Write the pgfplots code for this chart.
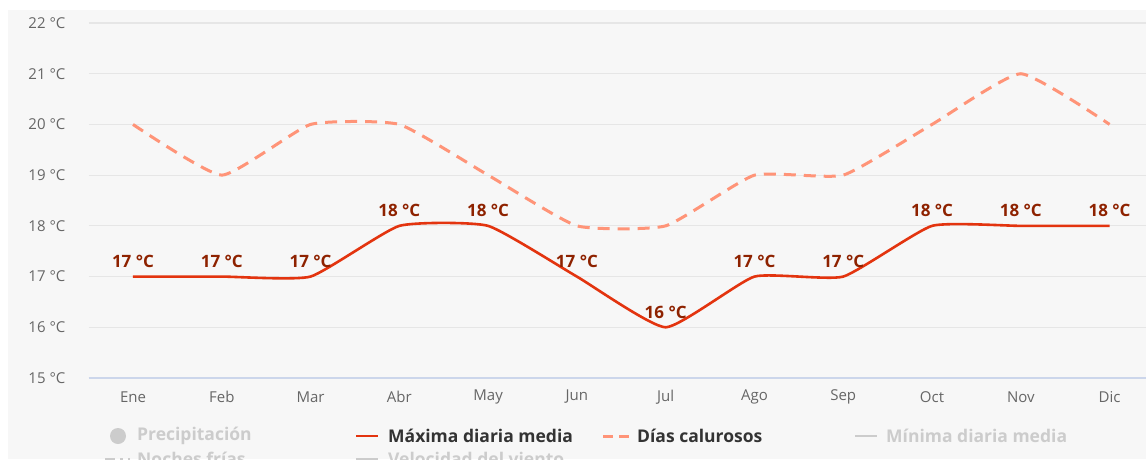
\documentclass[border=0pt]{standalone}
\usepackage{pgfplots}
\pgfplotsset{compat=1.18}
\usepackage{fontspec}
\setmainfont{Open Sans}
\definecolor{bg}{HTML}{F7F7F7}
\definecolor{grid}{HTML}{E6E6E6}
\definecolor{maxc}{HTML}{E3340F}
\definecolor{hotc}{HTML}{FF9478}
\definecolor{lbl}{HTML}{8E2200}
\definecolor{tick}{HTML}{666666}
\definecolor{dis}{HTML}{CCCCCC}
\definecolor{leg}{HTML}{333333}
\begin{document}
\begin{tikzpicture}[x=1pt,y=1pt]
\fill[white] (0,0) rectangle (1146,-459);
\fill[bg] (8,-10) rectangle (1146,-459);
\begin{axis}[
  at={(88.6pt,-378pt)}, anchor=south west,
  scale only axis, width=1057.4pt, height=355pt,
  xmin=-0.5, xmax=11.41, ymin=15, ymax=22,
  axis line style={draw=none},
  ytick={15,16,...,22},
  yticklabel={\pgfmathprintnumber{\tick}~°C},
  yticklabel style={anchor=east, inner sep=0pt, xshift=-23pt, font=\fontsize{15}{18}\selectfont, text=tick},
  xtick={0,...,11},
  xticklabels={Ene,Feb,Mar,Abr,May,Jun,Jul,Ago,Sep,Oct,Nov,Dic},
  xticklabel style={anchor=center, inner sep=0pt, yshift=-19pt, font=\fontsize{15}{18}\selectfont, text=tick},
  major tick length=0pt,
  tick style={draw=none},
  xmajorgrids=false,
  ymajorgrids, 
  y grid style={grid, line width=1.2pt},
  clip=false,
  /pgf/number format/assume math mode=true,
]
\draw[color={rgb,255:red,204;green,214;blue,235}, line width=1.2pt] (axis cs:-0.5,15) -- (axis cs:11.41,15);
\addplot[hotc, line width=3pt, dash pattern=on 12pt off 8pt, smooth, tension=0.28] coordinates {
(0,20) (1,19) (2,20) (3,20) (4,19) (5,18) (6,18) (7,19) (8,19) (9,20) (10,21) (11,20)};
\addplot[maxc, line width=2.6pt, smooth, tension=0.28,
  nodes near coords={\pgfmathprintnumber{\pgfplotspointmeta}~°C},
  point meta=explicit,
  every node near coord/.append style={font=\bfseries\fontsize{17}{20}\selectfont, text=lbl, anchor=center, yshift=15pt}] coordinates {
(0,17) [17] (1,17) [17] (2,17) [17] (3,18) [18] (4,18) [18] (5,17) [17] (6,16) [16] (7,17) [17] (8,17) [17] (9,18) [18] (10,18) [18] (11,18) [18]};
\end{axis}
% legend
\begin{scope}[font=\bfseries\fontsize{17.5}{20}\selectfont]
\fill[dis] (118,-436) circle (8);
\node[anchor=west, text=dis, inner sep=0pt] at (137,-436) {Precipitación};
\draw[maxc, line width=2.5pt] (356,-436) -- (378,-436);
\node[anchor=west, text=leg, inner sep=0pt] at (388,-436) {Máxima diaria media};
\draw[hotc, line width=3pt, dash pattern=on 10pt off 6pt] (603,-436) -- (630,-436);
\node[anchor=west, text=leg, inner sep=0pt] at (637,-436) {Días calurosos};
\draw[dis, line width=2.5pt] (855,-436) -- (877,-436);
\node[anchor=west, text=dis, inner sep=0pt] at (886,-436) {Mínima diaria media};
\draw[dis, line width=3pt, dash pattern=on 10pt off 5pt on 3pt off 5pt] (105,-459) -- (130,-459);
\node[anchor=west, text=dis, inner sep=0pt] at (137,-459) {Noches frías};
\draw[dis, line width=3pt] (356,-459) -- (378,-459);
\node[anchor=west, text=dis, inner sep=0pt] at (388,-459) {Velocidad del viento};
\end{scope}
\pgfresetboundingbox
\useasboundingbox (0,0) rectangle (1146,-459);
\end{tikzpicture}
\end{document}
